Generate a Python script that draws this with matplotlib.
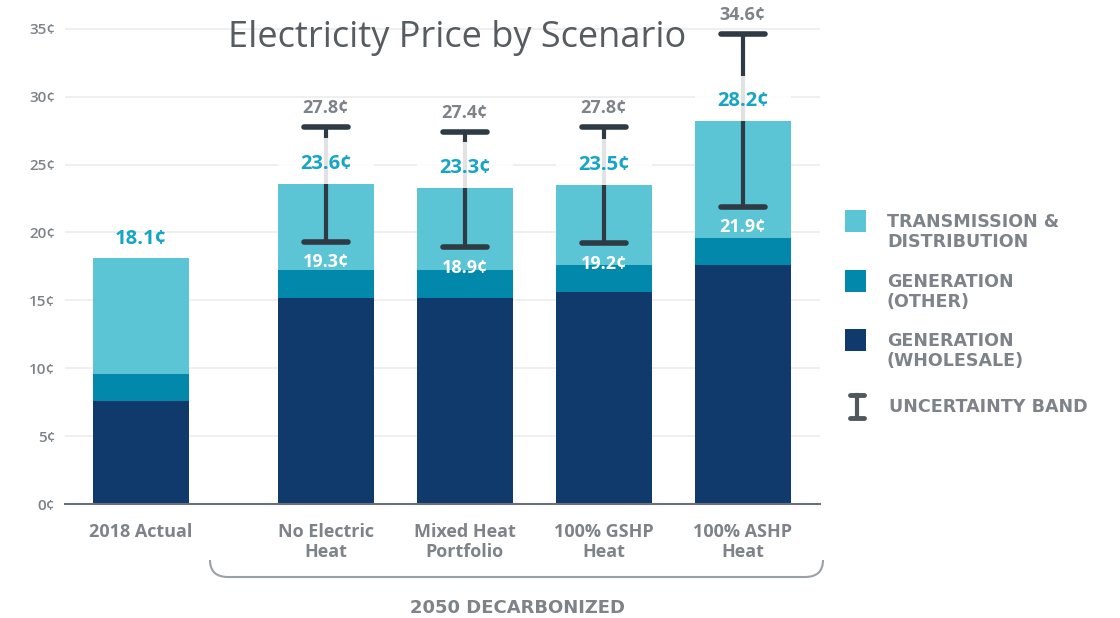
import numpy as np
import matplotlib
matplotlib.use("Agg")
import matplotlib.pyplot as plt
from matplotlib.patches import Rectangle, PathPatch
from matplotlib.path import Path
from matplotlib.lines import Line2D

# ---- data ----
categories = ["2018 Actual", "No Electric\nHeat", "Mixed Heat\nPortfolio", "100% GSHP\nHeat", "100% ASHP\nHeat"]
wholesale = [7.6, 15.2, 15.2, 15.6, 17.6]
gen_other = [2.0, 2.0, 2.0, 2.0, 2.0]
totals = [18.1, 23.6, 23.3, 23.5, 28.2]
band_low = [None, 19.3, 18.9, 19.2, 21.9]
band_high = [None, 27.8, 27.4, 27.8, 34.6]
y_ticks = [0, 5, 10, 15, 20, 25, 30, 35]
legend_labels = ["TRANSMISSION &\nDISTRIBUTION", "GENERATION\n(OTHER)", "GENERATION\n(WHOLESALE)", "UNCERTAINTY BAND"]

C_TD = "#5bc4d5"
C_OTHER = "#0288ab"
C_WHOLE = "#0f3a6b"
C_GRAY = "#7d8388"
C_CYAN = "#16a5c2"
C_DARK = "#2e3b45"

plt.rcParams['font.family'] = ['Open Sans', 'DejaVu Sans']
CAPS_FONT = ['DejaVu Sans']

W, H = 1120, 618
fig = plt.figure(figsize=(W / 100, H / 100), dpi=100)
ax = fig.add_axes([65 / W, (H - 504) / H, (820 - 65) / W, 482 / H])

n = len(categories)
gap = 0.33
x = np.arange(n) + np.where(np.arange(n) > 0, gap, 0.0)
bw = 0.69

whole = np.array(wholesale)
other = np.array(gen_other)
tot = np.array(totals)
td = tot - whole - other

ax.bar(x, whole, bw, color=C_WHOLE, zorder=2)
ax.bar(x, other, bw, bottom=whole, color=C_OTHER, zorder=2)
ax.bar(x, td, bw, bottom=whole + other, color=C_TD, zorder=2)

lab_off = 1.45
for i in range(n):
    if band_low[i] is not None:
        lo, hi = band_low[i], band_high[i]
        ax.plot([x[i], x[i]], [lo, hi], color=C_DARK, lw=3, zorder=3, solid_capstyle='butt')
        ax.add_patch(Rectangle((x[i] - bw / 2, tot[i]), bw, 3.35, facecolor='white',
                               alpha=0.86, edgecolor='none', zorder=4))
        cw = 0.16
        for v in (lo, hi):
            ax.plot([x[i] - cw, x[i] + cw], [v, v], color=C_DARK, lw=4, zorder=5,
                    solid_capstyle='round')
        ax.text(x[i], hi + 1.4, f"{hi}¢", ha='center', va='center', color=C_GRAY,
                fontsize=13, fontweight='bold', zorder=6)
        ax.text(x[i], lo - 1.5, f"{lo}¢", ha='center', va='center', color='white',
                fontsize=13, fontweight='bold', zorder=6)
    ax.text(x[i], tot[i] + lab_off, f"{tot[i]}¢", ha='center', va='center', color=C_CYAN,
            fontsize=14.5, fontweight='bold', zorder=6)

ax.set_xlim(-0.547, 4.885)
ax.set_ylim(0, 35.5)
ax.set_yticks(y_ticks)
ax.set_yticklabels([f"{t}¢" for t in y_ticks], color=C_GRAY, fontsize=11, fontweight='semibold')
ax.set_xticks(x)
ax.set_xticklabels(categories, color=C_GRAY, fontsize=13, fontweight='bold', linespacing=1.1)
ax.tick_params(axis='both', length=0)
ax.tick_params(axis='y', pad=7)
ax.tick_params(axis='x', pad=14)
ax.grid(axis='y', color='#ececec', lw=1.2, zorder=0)
ax.set_axisbelow(True)
for s in ['top', 'right', 'left']:
    ax.spines[s].set_visible(False)
ax.spines['bottom'].set_color('#6a7075')
ax.spines['bottom'].set_linewidth(1.5)
ax.spines['bottom'].set_zorder(3)

# title
fig.text(457 / W, 1 - 38 / H, "Electricity Price by Scenario", ha='center', va='center',
         fontsize=26, color='#565c60', family=['Open Sans', 'DejaVu Sans'], fontweight='normal')

# bracket
def fx(px):
    return px / W
def fy(py):
    return 1 - py / H
verts = [(fx(210), fy(560)), (fx(210), fy(577)), (fx(228), fy(577)), (fx(805), fy(577)),
         (fx(823), fy(577)), (fx(823), fy(560))]
codes = [Path.MOVETO, Path.CURVE3, Path.CURVE3, Path.LINETO, Path.CURVE3, Path.CURVE3]
fig.add_artist(PathPatch(Path(verts, codes), transform=fig.transFigure, facecolor='none',
                         edgecolor='#9aa0a5', lw=1.5))
fig.text(fx(518), fy(608), "2050 DECARBONIZED", ha='center', va='center', color=C_GRAY,
         fontsize=13, fontweight='bold', family=CAPS_FONT)

# legend
leg_colors = [C_TD, C_OTHER, C_WHOLE]
leg_y = [210, 270, 329]
for c, yy, lab in zip(leg_colors, leg_y, legend_labels[:3]):
    fig.add_artist(Rectangle((fx(845), fy(yy + 22)), 21 / W, 22 / H, transform=fig.transFigure,
                             facecolor=c, edgecolor='none'))
    fig.text(fx(887), fy(yy + 22), lab, ha='left', va='center', color=C_GRAY, fontsize=12.6,
             fontweight='bold', linespacing=1.1, family=CAPS_FONT)
ux = fx(857)
fig.add_artist(Line2D([ux, ux], [fy(395), fy(418)], transform=fig.transFigure, color='#50585e', lw=3))
for yy in (395, 418):
    fig.add_artist(Line2D([fx(850), fx(864)], [fy(yy), fy(yy)], transform=fig.transFigure,
                          color='#50585e', lw=3.5, solid_capstyle='round'))
fig.text(fx(889), fy(407), legend_labels[3], ha='left', va='center', color=C_GRAY, fontsize=12.6,
         fontweight='bold', family=CAPS_FONT)

fig.savefig("out.png", dpi=100, facecolor='white')
